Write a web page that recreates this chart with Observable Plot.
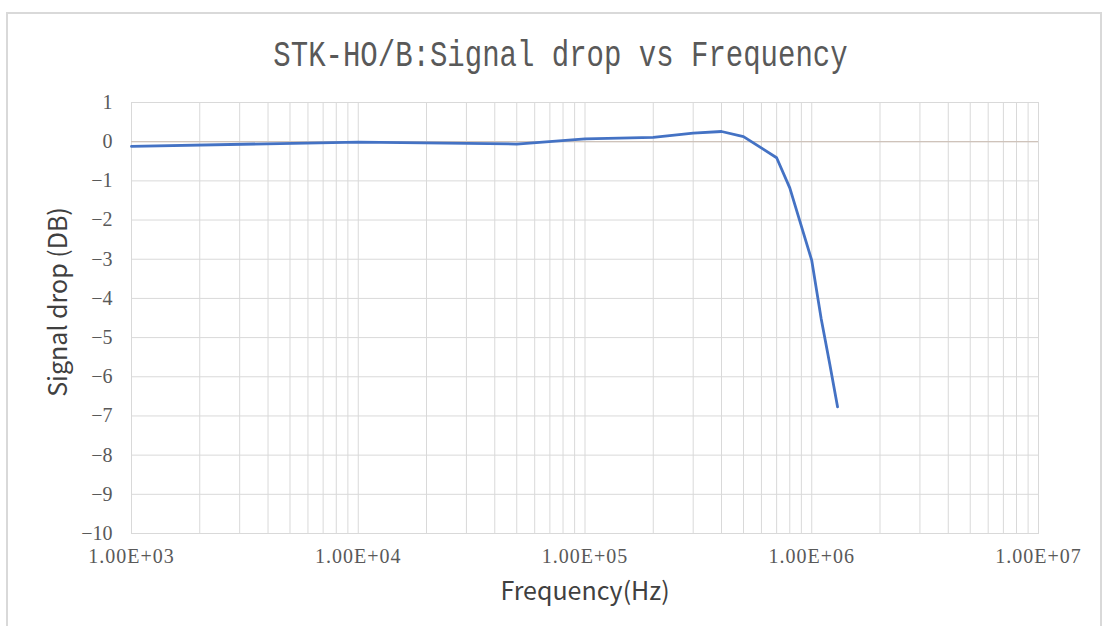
<!DOCTYPE html>
<html>
<head>
<meta charset="utf-8">
<script src="https://cdn.jsdelivr.net/npm/d3@7"></script>
<script src="https://cdn.jsdelivr.net/npm/@observablehq/plot@0.6"></script>
<style>
  html, body { margin: 0; padding: 0; background: #fff; overflow: hidden; }
  #frame {
    position: absolute; left: 6px; top: 12px; width: 1092px; height: 640px;
    border-top: 2px solid #d9d9d9; border-left: 2px solid #d9d9d9; border-right: 2px solid #d9d9d9;
    pointer-events: none;
  }
  #title {
    height: 90px; padding-top: 38px; box-sizing: border-box; text-align: center; padding-left: 18px;
    white-space: nowrap;
  }
  #title span {
    display: inline-block; transform: scaleY(1.25); transform-origin: center top;
    font-family: "Liberation Mono", "DejaVu Sans Mono", monospace; font-size: 29px; line-height: 1; color: #595959;
  }
  #chart { display: block; }
  g[aria-label="x-axis tick label"] text { letter-spacing: 1px; }
</style>
</head>
<body>
<div id="frame"></div>
<div id="title"><span>STK-HO/B:Signal drop vs Frequency</span></div>
<div id="chart"></div>
<script>
const frequency = [1e3, 1e4, 5e4, 1e5, 2e5, 3e5, 4e5, 5e5, 7e5, 8e5, 1e6, 1.1e6, 1.2e6, 1.3e6];
const signalDrop = [-0.12, -0.01, -0.06, 0.07, 0.11, 0.22, 0.26, 0.13, -0.41, -1.18, -3.03, -4.51, -5.67, -6.77];
const xTickValues = [1e3, 1e4, 1e5, 1e6, 1e7];
const xTickLabels = ["1.00E+03", "1.00E+04", "1.00E+05", "1.00E+06", "1.00E+07"];
const yTickValues = [1, 0, -1, -2, -3, -4, -5, -6, -7, -8, -9, -10];

const data = frequency.map((f, i) => ({f, v: signalDrop[i]}));
const minorGrid = xTickValues.slice(0, -1).flatMap(d => d3.range(1, 10).map(m => m * d)).concat([1e7]);
const tickFont = "'Liberation Serif', 'DejaVu Serif', serif";
const labelFont = "'Noto Sans CJK SC', 'Noto Sans', sans-serif";

const chart = Plot.plot({
  width: 1103,
  height: 536,
  marginTop: 12,
  marginBottom: 93,
  marginLeft: 131,
  marginRight: 65,
  style: {background: "transparent", color: "#595959"},
  x: {type: "log", domain: [1e3, 1e7]},
  y: {domain: [-10, 1]},
  marks: [
    Plot.gridX(minorGrid, {stroke: "#d9d9d9", strokeOpacity: 1, strokeWidth: 1}),
    Plot.gridY(yTickValues, {stroke: "#d9d9d9", strokeOpacity: 1, strokeWidth: 1}),
    Plot.frame({stroke: "#d9d9d9", strokeWidth: 1}),
    Plot.ruleY([0], {stroke: "#cfc3ba", strokeWidth: 1.2}),
    Plot.line(data, {x: "f", y: "v", stroke: "#4472c4", strokeWidth: 2.8, curve: "linear"}),
    Plot.axisX(xTickValues, {
      tickSize: 0, tickPadding: 15, label: null,
      tickFormat: d => xTickLabels[xTickValues.indexOf(d)],
      fontFamily: tickFont, fontSize: 20, fill: "#595959"
    }),
    Plot.axisY(yTickValues, {
      tickSize: 0, tickPadding: 19, label: null,
      fontFamily: tickFont, fontSize: 20, fill: "#595959"
    }),
    Plot.text(["Frequency(Hz)"], {frameAnchor: "bottom", dy: 66, fontSize: 25, fontFamily: labelFont, fill: "#404040"}),
    Plot.text(["Signal drop (DB)"], {frameAnchor: "left", textAnchor: "middle", dx: -73, dy: -16, rotate: -90, fontSize: 25, fontFamily: labelFont, fill: "#404040"})
  ]
});
document.getElementById("chart").append(chart);
</script>
</body>
</html>
